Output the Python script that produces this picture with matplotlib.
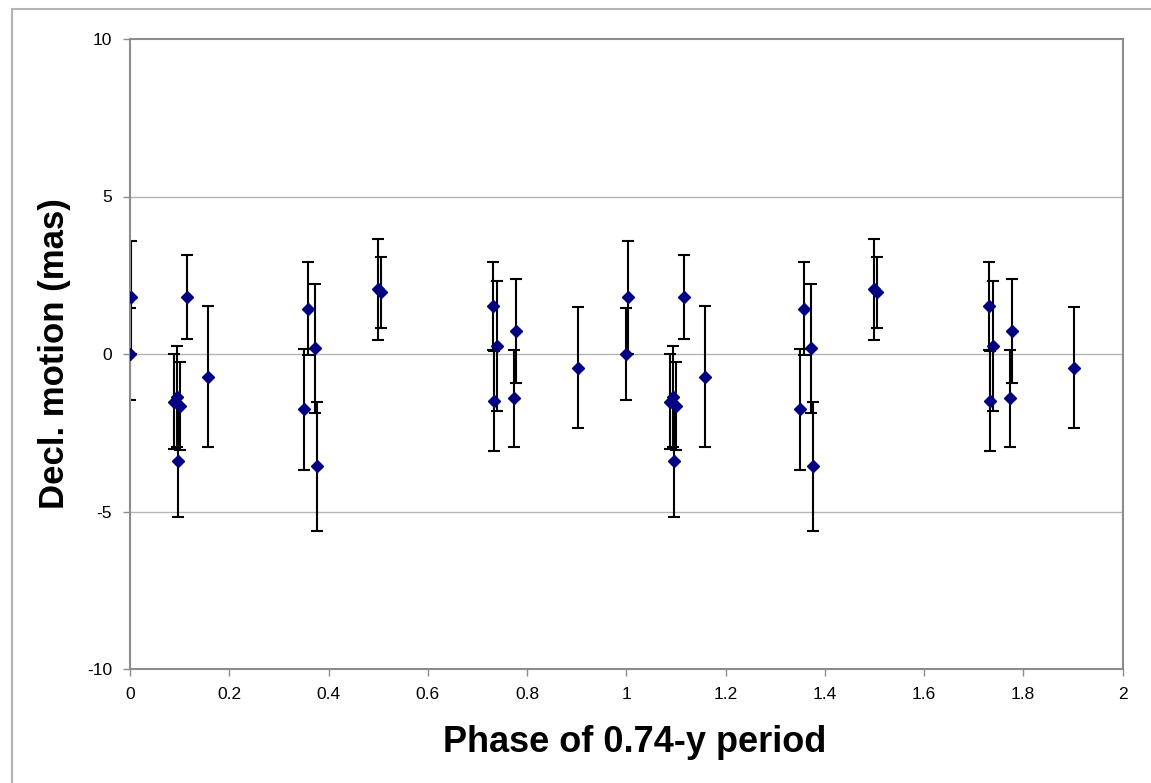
import numpy as np
import matplotlib
matplotlib.use('Agg')
import matplotlib.pyplot as plt
from matplotlib.lines import Line2D

plt.rcParams['font.family'] = ['Liberation Sans', 'DejaVu Sans']
plt.rcParams['axes.unicode_minus'] = False

# phase-folded points (one cycle), shown twice on the plot
phase = [0.0, 0.003, 0.089, 0.094, 0.101, 0.096, 0.1155, 0.158,
         0.351, 0.358, 0.373, 0.376, 0.499, 0.506,
         0.731, 0.739, 0.734, 0.778, 0.774, 0.903]
decl = [0.0, 1.80, -1.51, -1.35, -1.65, -3.39, 1.80, -0.72,
        -1.76, 1.44, 0.18, -3.56, 2.06, 1.96,
        1.53, 0.25, -1.49, 0.73, -1.41, -0.43]
err = [1.45, 1.80, 1.50, 1.60, 1.40, 1.77, 1.33, 2.23,
       1.91, 1.47, 2.05, 2.05, 1.60, 1.13,
       1.40, 2.06, 1.60, 1.64, 1.55, 1.93]

x = np.concatenate([phase, np.array(phase) + 1])
y = np.concatenate([decl, decl])
e = np.concatenate([err, err])

fig = plt.figure(figsize=(11.51, 7.83), dpi=100)
ax = fig.add_axes([130 / 1151, 114 / 783, 992.5 / 1151, 630 / 783])

gray = '#8c8c8c'
for v in [-5, 0, 5]:
    ax.axhline(v, color='#b4b4b4', lw=1, zorder=0)

ax.errorbar(x, y, yerr=e, fmt='none', ecolor='black', elinewidth=1.5,
            capsize=4, capthick=1.5, zorder=2)
ax.plot(x, y, 'D', color='#000080', ms=6.5, zorder=3)

ax.set_xlim(0, 2)
ax.set_ylim(-10, 10)
ax.set_xticks(np.arange(0, 2.01, 0.2))
ax.set_xticklabels(['0', '0.2', '0.4', '0.6', '0.8', '1', '1.2', '1.4', '1.6', '1.8', '2'])
ax.set_yticks([-10, -5, 0, 5, 10])
ax.set_yticklabels(['-10', '-5', '0', '5', '10'])
ax.tick_params(axis='both', direction='out', length=5, width=1, color=gray,
               labelsize=12.5, pad=8)
for s in ax.spines.values():
    s.set_color(gray)
    s.set_linewidth(1.5)

ax.set_xlabel('Phase of 0.74-y period', fontsize=26, fontweight='bold')
ax.xaxis.label.set_va('center')
ax.xaxis.set_label_coords(0.508, -0.117)
ax.set_ylabel('Decl. motion (mas)', fontsize=25, fontweight='bold')
ax.yaxis.label.set_va('center')
ax.yaxis.set_label_coords(-0.0756, 0.5)

# outer frame of the chart area
fig.add_artist(Line2D([12 / 1151, 12 / 1151], [0, 1 - 9 / 783], color='#b4b4b4', lw=1.5))
fig.add_artist(Line2D([12 / 1151, 1], [1 - 9 / 783, 1 - 9 / 783], color='#b4b4b4', lw=1.5))

fig.savefig('out.png', dpi=100)
